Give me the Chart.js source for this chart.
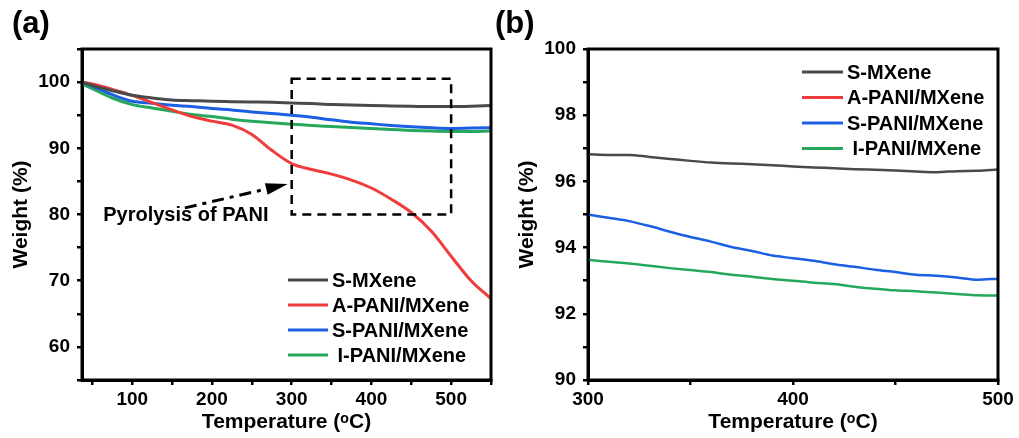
<!DOCTYPE html>
<html>
<head>
<meta charset="utf-8">
<script src="https://cdn.jsdelivr.net/npm/chart.js@4.4.0/dist/chart.umd.min.js"></script>
<style>
  html, body { margin: 0; padding: 0; background: #fff; }
  body { width: 1019px; height: 438px; position: relative; overflow: hidden; font-family: "Liberation Sans", Arial, sans-serif; }
  .panel { position: absolute; top: 0; height: 438px; }
  #wrapA { left: 0; width: 505px; }
  #wrapB { left: 505px; width: 514px; }
  .tag { position: absolute; font-weight: bold; font-size: 31px; line-height: 31px; color: #000; }
</style>
</head>
<body>
<div class="panel" id="wrapA"><canvas id="chartA"></canvas></div>
<div class="panel" id="wrapB"><canvas id="chartB"></canvas></div>
<div class="tag" style="left:12px;top:7px">(a)</div>
<div class="tag" style="left:495px;top:7px">(b)</div>

<script>
// ---- data ----
// panel (a): full TGA range
const tempA   = [37, 50, 75, 100, 125, 150, 175, 200, 225, 250, 275, 300, 325, 350, 375, 400, 425, 450, 475, 500, 525, 550];
const sMXeneA = [100, 99.5, 98.7, 98.0, 97.6, 97.3, 97.2, 97.1, 97.05, 97.0, 96.95, 96.85, 96.75, 96.6, 96.55, 96.45, 96.4, 96.35, 96.3, 96.3, 96.35, 96.45];
const aPaniA  = [100, 99.7, 98.9, 98.0, 96.9, 95.8, 94.8, 94.1, 93.5, 92.1, 89.7, 87.7, 86.8, 86.1, 85.2, 84.0, 82.3, 80.3, 77.5, 73.7, 70.0, 67.3];
const sPaniA  = [100, 99.4, 98.1, 97.1, 96.8, 96.5, 96.3, 96.0, 95.8, 95.5, 95.25, 95.0, 94.7, 94.3, 93.95, 93.7, 93.45, 93.25, 93.1, 93.0, 93.05, 93.1];
const iPaniA  = [99.7, 99.0, 97.6, 96.6, 96.1, 95.6, 95.1, 94.8, 94.4, 94.1, 93.85, 93.65, 93.45, 93.3, 93.15, 93.0, 92.85, 92.7, 92.6, 92.55, 92.55, 92.6];

// panel (b): zoom 300-500 C
const tempB   = [300, 310, 320, 330, 340, 350, 360, 370, 380, 390, 400, 410, 420, 430, 440, 450, 460, 470, 480, 490, 500];
const sMXeneB = [96.82, 96.8, 96.8, 96.74, 96.68, 96.62, 96.57, 96.54, 96.52, 96.49, 96.45, 96.42, 96.4, 96.37, 96.35, 96.33, 96.3, 96.28, 96.31, 96.32, 96.36];
const sPaniB  = [95.0, 94.9, 94.8, 94.65, 94.48, 94.32, 94.18, 94.02, 93.9, 93.76, 93.68, 93.6, 93.5, 93.42, 93.33, 93.26, 93.18, 93.15, 93.1, 93.03, 93.06];
const iPaniB  = [93.63, 93.57, 93.52, 93.45, 93.38, 93.32, 93.26, 93.18, 93.12, 93.05, 93.0, 92.94, 92.9, 92.82, 92.76, 92.71, 92.68, 92.64, 92.6, 92.56, 92.55];

const seriesNames = ['S-MXene', 'A-PANI/MXene', 'S-PANI/MXene', ' I-PANI/MXene'];
const seriesColors = ['#4a4a4a', '#ef3c3c', '#1d5fe3', '#25a85c'];

const FONT = "'Liberation Sans', Arial, sans-serif";

const pairs = (xs, ys) => xs.map((x, i) => ({ x: x, y: ys[i] }));

function makeSet(i, xs, ys, width) {
    return {
        label: seriesNames[i],
        data: ys ? pairs(xs, ys) : [],
        borderColor: seriesColors[i],
        backgroundColor: seriesColors[i],
        borderWidth: width,
        pointRadius: 0,
        cubicInterpolationMode: 'monotone',
        fill: false
    };
}

// frame + in-plot legend + annotation
const decoPlugin = {
    id: 'deco',
    afterDatasetsDraw(chart, args, opts) {
        const ctx = chart.ctx;
        const a = chart.chartArea;
        const xs = chart.scales.x, ys = chart.scales.y;
        ctx.save();

        // dashed box + arrow (panel a only)
        if (opts.box) {
            const b = opts.box;
            ctx.strokeStyle = '#000';
            ctx.lineWidth = 2.5;
            ctx.setLineDash([9, 6]);
            ctx.strokeRect(xs.getPixelForValue(b[0]), ys.getPixelForValue(b[3]),
                xs.getPixelForValue(b[1]) - xs.getPixelForValue(b[0]),
                ys.getPixelForValue(b[2]) - ys.getPixelForValue(b[3]));

            const x0 = xs.getPixelForValue(opts.arrowFrom[0]), y0 = ys.getPixelForValue(opts.arrowFrom[1]);
            const x1 = xs.getPixelForValue(opts.arrowTo[0]), y1 = ys.getPixelForValue(opts.arrowTo[1]);
            const ang = Math.atan2(y1 - y0, x1 - x0);
            const headLen = 22, headW = 6;
            const bx = x1 - headLen * Math.cos(ang), by = y1 - headLen * Math.sin(ang);
            ctx.lineWidth = 3;
            ctx.setLineDash([12, 6, 4, 6]);
            ctx.beginPath();
            ctx.moveTo(x0, y0);
            ctx.lineTo(bx, by);
            ctx.stroke();
            ctx.setLineDash([]);
            ctx.fillStyle = '#000';
            ctx.beginPath();
            ctx.moveTo(x1, y1);
            ctx.lineTo(bx + headW * Math.sin(ang), by - headW * Math.cos(ang));
            ctx.lineTo(bx - headW * Math.sin(ang), by + headW * Math.cos(ang));
            ctx.closePath();
            ctx.fill();

            ctx.font = 'bold 20px ' + FONT;
            ctx.textBaseline = 'alphabetic';
            ctx.textAlign = 'left';
            ctx.fillText(opts.text, xs.getPixelForValue(opts.textAt[0]), ys.getPixelForValue(opts.textAt[1]));
        }

        // legend
        const L = opts.legend;
        ctx.setLineDash([]);
        ctx.font = 'bold 20px ' + FONT;
        ctx.textBaseline = 'middle';
        ctx.textAlign = 'left';
        chart.data.datasets.forEach((ds, i) => {
            const y = L.y + i * L.row;
            ctx.strokeStyle = ds.borderColor;
            ctx.lineWidth = 3;
            ctx.beginPath();
            ctx.moveTo(L.x, y);
            ctx.lineTo(L.x + L.len, y);
            ctx.stroke();
            ctx.fillStyle = '#000';
            ctx.fillText(ds.label, L.x + L.len + 4, y + 1);
        });

        // frame
        ctx.strokeStyle = '#000';
        ctx.lineWidth = 3;
        ctx.strokeRect(a.left, a.top, a.right - a.left, a.bottom - a.top);
        ctx.restore();
    }
};

function axisTitle(text, pad) {
    return {
        display: true,
        text: text,
        color: '#000',
        font: { family: FONT, weight: 'bold', size: 21 },
        padding: pad
    };
}

function baseOptions(cfg) {
    return {
        responsive: true,
        maintainAspectRatio: false,
        animation: false,
        layout: { padding: { top: 49, right: cfg.right, left: 0, bottom: 0 } },
        plugins: {
            legend: { display: false },
            tooltip: { enabled: false },
            deco: cfg.deco
        },
        scales: {
            x: {
                type: 'linear',
                min: cfg.xMin, max: cfg.xMax,
                afterFit: s => { s.height = 58; },
                border: { color: '#000', width: 3 },
                grid: { drawOnChartArea: false, color: '#000', lineWidth: 2.5, tickLength: 5 },
                ticks: {
                    stepSize: cfg.xStep,
                    includeBounds: false,
                    color: '#000',
                    padding: 3,
                    maxRotation: 0,
                    autoSkip: false,
                    font: { family: FONT, weight: 'bold', size: 19 },
                    callback: cfg.xLabel
                },
                title: axisTitle('Temperature (\u1D52C)', { top: 0, bottom: 3 })
            },
            y: {
                min: cfg.yMin, max: cfg.yMax,
                afterFit: s => { s.width = cfg.yWidth; },
                border: { color: '#000', width: 3 },
                grid: { drawOnChartArea: false, color: '#000', lineWidth: 2.5, tickLength: 5 },
                ticks: {
                    stepSize: cfg.yStep,
                    color: '#000',
                    padding: 7,
                    autoSkip: false,
                    font: { family: FONT, weight: 'bold', size: 19 },
                    callback: cfg.yLabel
                },
                title: axisTitle('Weight (%)', { top: cfg.yTitlePad, bottom: 0 })
            }
        }
    };
}

// ---- panel (a) ----
new Chart(document.getElementById('chartA'), {
    type: 'line',
    data: {
        datasets: [
            makeSet(0, tempA, sMXeneA, 3),
            makeSet(1, tempA, aPaniA, 3),
            makeSet(2, tempA, sPaniA, 3),
            makeSet(3, tempA, iPaniA, 3)
        ]
    },
    options: baseOptions({
        right: 14, yWidth: 82, yTitlePad: 9,
        xMin: 37, xMax: 550, xStep: 50,
        yMin: 55, yMax: 105, yStep: 5,
        xLabel: v => (v % 100 === 0 ? v : ''),
        yLabel: v => (v % 10 === 0 && v >= 60 && v <= 100 ? v : ''),
        deco: {
            box: [300, 500, 80, 100.5],
            arrowFrom: [166, 81.0],
            arrowTo: [295, 84.6],
            text: 'Pyrolysis of PANI',
            textAt: [63.6, 79.0],
            legend: { x: 288, y: 280, row: 25, len: 40 }
        }
    }),
    plugins: [decoPlugin]
});

// ---- panel (b) ----
new Chart(document.getElementById('chartB'), {
    type: 'line',
    data: {
        datasets: [
            makeSet(0, tempB, sMXeneB, 2.5),
            makeSet(1, tempB, null, 2.5),
            makeSet(2, tempB, sPaniB, 2.5),
            makeSet(3, tempB, iPaniB, 2.5)
        ]
    },
    options: baseOptions({
        right: 21, yWidth: 83, yTitlePad: 10,
        xMin: 300, xMax: 500, xStep: 50,
        yMin: 90, yMax: 100, yStep: 1,
        xLabel: v => (v % 100 === 0 ? v : ''),
        yLabel: v => (v % 2 === 0 ? v : ''),
        deco: {
            legend: { x: 297, y: 72, row: 25.5, len: 41 }
        }
    }),
    plugins: [decoPlugin]
});
</script>
</body>
</html>
